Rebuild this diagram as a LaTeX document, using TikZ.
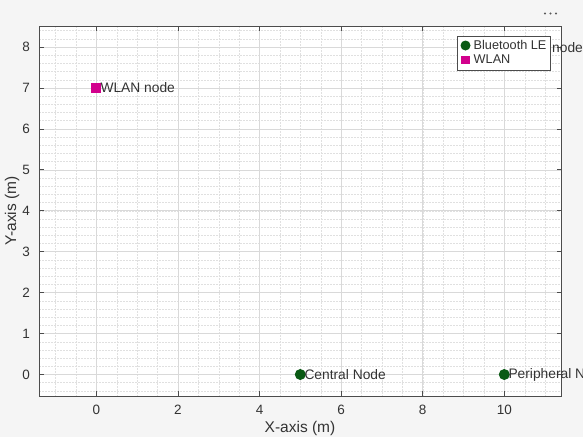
\documentclass[tikz,border=0pt]{standalone}
\usepackage{fontspec}
\setmainfont{Liberation Sans}
\begin{document}
\begin{tikzpicture}[x=1pt,y=-1pt,
  axline/.style={draw=black!70,line width=0.9pt},
  majgrid/.style={draw=black!15,line width=0.5pt},
  mingrid/.style={draw=black!12,line width=0.4pt,dash pattern=on 1.5pt off 1.5pt},
  ticklab/.style={font=\fontsize{13.5}{15}\selectfont,text=black!80},
  axlab/.style={font=\fontsize{15.5}{17}\selectfont,text=black!80},
  datalab/.style={font=\fontsize{13.8}{15}\selectfont,text=black!80,anchor=west,inner sep=0pt},
  blemark/.style={circle,fill=bleg,inner sep=0pt,minimum size=11pt},
  wlanmark/.style={rectangle,fill=wlanm,inner sep=0pt,minimum size=10pt}]
\definecolor{bleg}{RGB}{10,90,20}
\definecolor{wlanm}{RGB}{210,0,140}
\def\XX#1{96.3+40.8*(#1)}
\def\YY#1{374.5-40.94*(#1)}
% figure background
\fill[black!4] (0,0) rectangle (583,437);
\useasboundingbox (0,0) rectangle (583,437);
% axes area
\fill[white] (39,26) rectangle (561.5,396);
\begin{scope}
\clip (39,26) rectangle (561.5,396);
\foreach \i in {-2.5,-2,...,11.5} {
  \draw[mingrid] ({\XX{\i}},26) -- ({\XX{\i}},396);
}
\foreach \j in {-0.4,-0.2,...,8.6} {
  \draw[mingrid] (39,{\YY{\j}}) -- (561.5,{\YY{\j}});
}
\foreach \i in {0,2,...,10} {
  \draw[majgrid] ({\XX{\i}},26) -- ({\XX{\i}},396);
}
\foreach \j in {0,1,...,8} {
  \draw[majgrid] (39,{\YY{\j}}) -- (561.5,{\YY{\j}});
}
\end{scope}
% axes box
\draw[axline] (39,26) rectangle (561.5,396);
\foreach \i in {0,2,...,10} {
  \draw[axline,line width=0.7pt] ({\XX{\i}},396) -- ({\XX{\i}},391);
  \draw[axline,line width=0.7pt] ({\XX{\i}},26) -- ({\XX{\i}},31);
  \node[ticklab] (xt\i) at ({\XX{\i}},410) {\i};
}
\foreach \j in {0,1,...,8} {
  \draw[axline,line width=0.7pt] (39,{\YY{\j}}) -- (44,{\YY{\j}});
  \draw[axline,line width=0.7pt] (561.5,{\YY{\j}}) -- (556.5,{\YY{\j}});
  \node[ticklab,anchor=east] (yt\j) at (33.5,{\YY{\j}}) {\j};
}
% axis labels
\node[axlab] (xlab) at (300,428.5) {X-axis (m)};
\node[axlab,rotate=90] (ylab) at (12,211) {Y-axis (m)};
% data
\node[wlanmark] (wlan) at ({\XX{0}},{\YY{7}}) {};
\node[datalab] (wlanlab) at ({\XX{0}+4},{\YY{7}}) {WLAN node};
\node[blemark] (central) at ({\XX{5}},{\YY{0}}) {};
\node[datalab] (centrallab) at ({\XX{5}+4},{\YY{0}}) {Central Node};
\node[blemark] (periph) at ({\XX{10}},{\YY{0}}) {};
\node[datalab] (periphlab) at ({\XX{10}+4},{\YY{0}}) {Peripheral Node};
\node[datalab] (toplab) at (552,47.5) {node};
% legend
\draw[fill=white,draw=black!70,line width=0.8pt] (457,36) rectangle (550.5,70);
\node[blemark,minimum size=10pt] (lgble) at (465.5,45.5) {};
\node[datalab,font=\fontsize{12.7}{14}\selectfont] (lgbletxt) at (473.5,45) {Bluetooth LE};
\node[wlanmark,minimum size=8.5pt] (lgwlan) at (465.5,60) {};
\node[datalab,font=\fontsize{12.7}{14}\selectfont] (lgwlantxt) at (473.5,59.5) {WLAN};
% toolbar dots
\foreach \k in {0,1,2} {
  \fill[black!65] (545+5.5*\k,13.5) circle (1.1pt);
}
\end{tikzpicture}
\end{document}
